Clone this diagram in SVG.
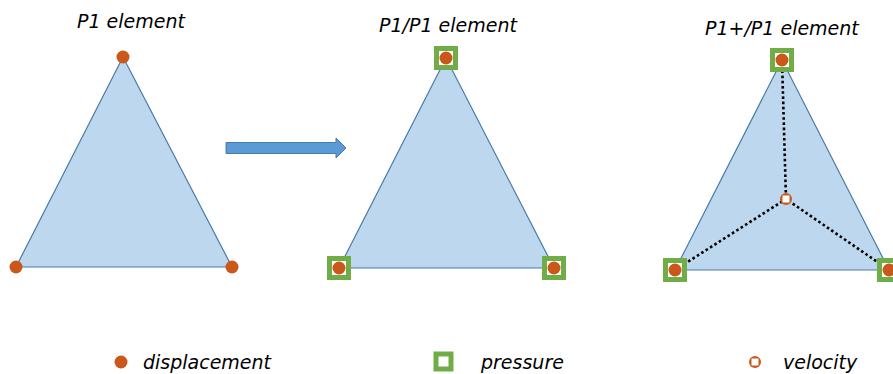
<svg xmlns="http://www.w3.org/2000/svg" width="893" height="374" viewBox="0 0 893 374">
<defs>
<style>
.tri{fill:#BDD7EE;stroke:#4A7AA8;stroke-width:1.2}
.dot{fill:#C9581A}
.sq{fill:#FFFFFF;stroke:#70AD47;stroke-width:5}
.t{font-family:"DejaVu Sans",sans-serif;font-style:italic;font-size:19px;fill:#000}
.dl{stroke:#000;stroke-width:2.6;stroke-dasharray:2.6 2.6;fill:none}
</style>
<g id="pm">
<rect x="-9.5" y="-9.5" width="19" height="19" class="sq"/>
<circle r="6.5" class="dot"/>
</g>
<g id="vel">
<circle r="6" class="dot"/>
<rect x="-3.5" y="-3.5" width="7" height="7" fill="#fff"/>
</g>
</defs>
<rect width="893" height="374" fill="#fff"/>

<g id="el1">
<text class="t" x="77" y="28">P1 element</text>
<polygon class="tri" points="123,57 16,267 232,267"/>
<circle class="dot" cx="123" cy="57" r="6.5"/>
<circle class="dot" cx="16" cy="267" r="6.5"/>
<circle class="dot" cx="232" cy="267" r="6.5"/>
</g>

<g id="connectors">
<polygon points="226,142.5 336,142.5 336,138 346,148 336,158 336,153.5 226,153.5" fill="#5B9BD5" stroke="#4A7AA8" stroke-width="1"/>
</g>

<g id="el2">
<text class="t" x="379" y="32">P1/P1 element</text>
<polygon class="tri" points="446,58 339,268 554,268"/>
<use href="#pm" x="446" y="58"/>
<use href="#pm" x="339" y="268"/>
<use href="#pm" x="554" y="268"/>
</g>

<g id="el3">
<text class="t" x="705" y="35">P1+/P1 element</text>
<polygon class="tri" points="782,60 675,270 889,270"/>
<path class="dl" d="M782,60 L786,199 M675,270 L786,199 M889,270 L786,199"/>
<use href="#pm" x="782" y="60"/>
<use href="#pm" x="675" y="270"/>
<use href="#pm" x="889" y="270"/>
<use href="#vel" x="786" y="199"/>
</g>

<g id="legend">
<circle class="dot" cx="121" cy="362" r="6.5"/>
<text class="t" x="143" y="369">displacement</text>
<rect x="436" y="354" width="15" height="15" class="sq"/>
<text class="t" x="481" y="369">pressure</text>
<use href="#vel" x="755" y="362"/>
<text class="t" x="783" y="369">velocity</text>
</g>
</svg>
